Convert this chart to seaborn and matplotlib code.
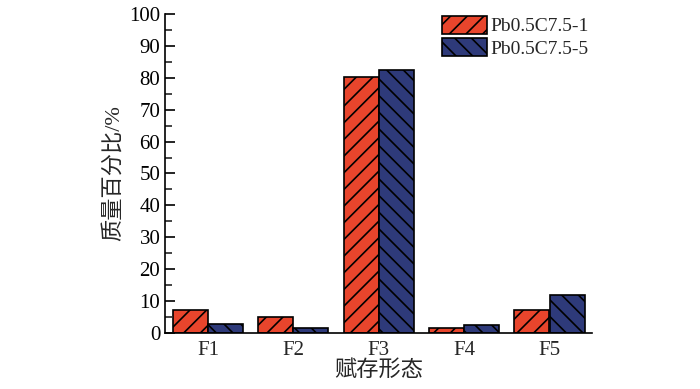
import matplotlib
matplotlib.use("Agg")
import matplotlib.pyplot as plt
import seaborn as sns
import pandas as pd
from matplotlib.ticker import MultipleLocator

categories = ["F1", "F2", "F3", "F4", "F5"]
series_names = ["Pb0.5C7.5-1", "Pb0.5C7.5-5"]
values_1 = [7.2, 5.1, 80.2, 1.5, 7.2]
values_5 = [2.8, 1.5, 82.3, 2.6, 12.0]
y_ticks = [0, 10, 20, 30, 40, 50, 60, 70, 80, 90, 100]

df = pd.DataFrame({
    "cat": categories * 2,
    "series": [series_names[0]] * 5 + [series_names[1]] * 5,
    "val": values_1 + values_5,
})

sns.set_style("ticks")
plt.rcParams['font.family'] = ['Liberation Serif', 'Noto Sans CJK SC']
plt.rcParams['hatch.linewidth'] = 1.2

fig = plt.figure(figsize=(7, 3.89), dpi=100)
ax = fig.add_axes([0.236, 0.144, 0.61, 0.82])

colors = ["#E8452C", "#2E3A7A"]
sns.barplot(data=df, x="cat", y="val", hue="series", palette=colors,
            width=0.82, saturation=1, ax=ax, legend=False,
            edgecolor="black", linewidth=1.2)

hatches = ["//", "\\\\"]
for cont, h in zip(ax.containers, hatches):
    for p in cont:
        p.set_hatch(h)
        p.set_edgecolor("black")

ax.set_xlim(-0.5, 4.5)
ax.set_ylim(0, 100)
ax.set_yticks(y_ticks)
ax.yaxis.set_minor_locator(MultipleLocator(5))
ax.tick_params(axis="y", which="major", direction="in", length=7, width=1.2, labelsize=15, colors="black")
ax.tick_params(axis="y", which="minor", direction="in", length=5, width=1.2)
ax.tick_params(axis="x", length=0, labelsize=15, pad=6)
for s in ["top", "right"]:
    ax.spines[s].set_visible(False)
for s in ["left", "bottom"]:
    ax.spines[s].set_linewidth(1.2)
    ax.spines[s].set_color("black")

ax.set_xlabel("赋存形态", fontsize=16, labelpad=0)
ax.set_ylabel("质量百分比/%", fontsize=16, labelpad=4)

ax.legend(ax.containers, series_names, loc="upper right", bbox_to_anchor=(1.02, 1.03),
          frameon=False, fontsize=14, handlelength=2.3, handleheight=1.0,
          handletextpad=0.2, labelspacing=0.15, borderaxespad=0.2)

fig.savefig("out.png", dpi=100)
